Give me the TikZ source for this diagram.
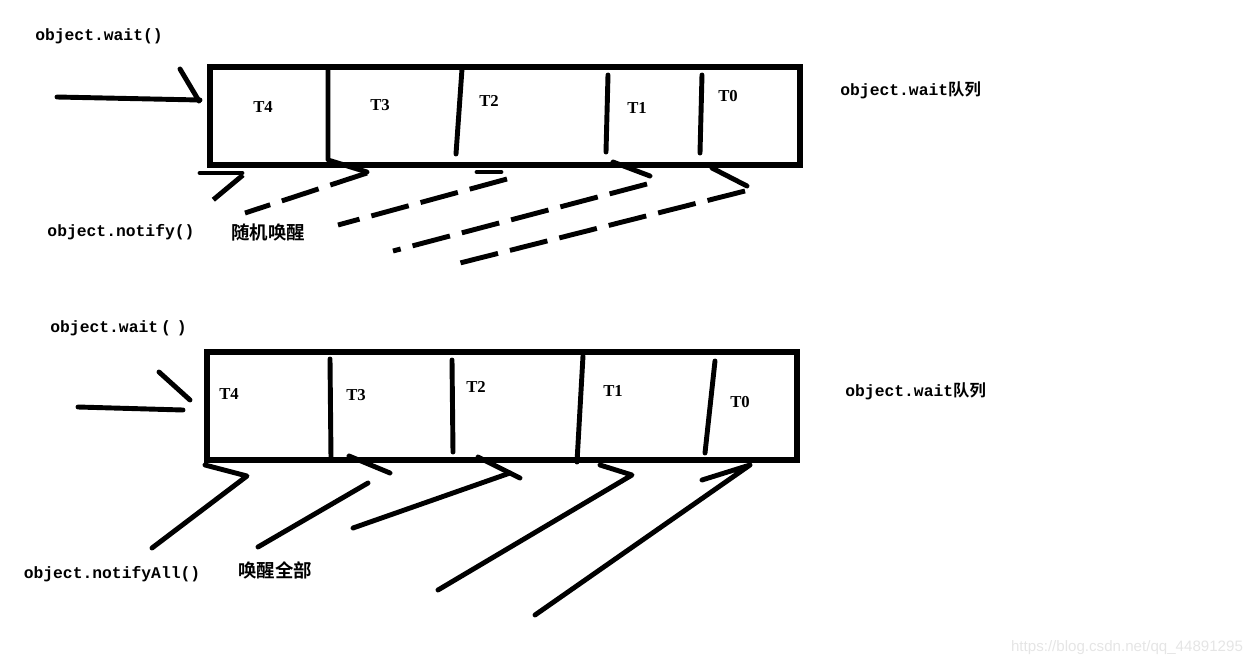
\documentclass[tikz,border=0pt]{standalone}
\usepackage{fontspec}
\setmainfont{Liberation Serif}
\newfontfamily\monofont{Liberation Mono}
\newfontfamily\cjkfont{Noto Sans CJK SC}[BoldFont={Noto Sans CJK SC Bold}]
\newfontfamily\urlfont{Liberation Sans}
\tikzset{
  inkline/.style={line width=2.8pt, line cap=round, line join=round},
  boxline/.style={line width=3.2pt},
  dashline/.style={line width=2.8pt, dash pattern=on 22pt off 7pt},
  code/.style={inner sep=0pt, font={\monofont\bfseries\fontsize{9.3}{11}\selectfont}},
  cjk/.style={inner sep=0pt, font={\cjkfont\bfseries\fontsize{10.5}{12}\selectfont}},
  thread/.style={inner sep=0pt, font={\bfseries\fontsize{9.5}{11}\selectfont}},
  watermark/.style={inner sep=0pt, text=black!10, font={\urlfont\fontsize{8.6}{10}\selectfont}}
}
\begin{document}
\begin{tikzpicture}[x=0.02cm, y=-0.02cm]
% une unite = un pixel de l'image
\useasboundingbox (0,0) rectangle (1259,667);

% ---- file du haut : notify()
\draw[boxline] (210,67) rectangle (800,165);
\draw[inkline] (328,67) -- (328,160) -- (367,172);
\draw[inkline] (462,69) -- (456,154);
\draw[inkline] (608,75) -- (606,152);
\draw[inkline] (702,75) -- (700,153);
% fleche d'entree
\draw[inkline] (57,97) -- (200,100);
\draw[inkline] (180,69) -- (199,101);
% fleches en tirets
\draw[inkline] (200,173) -- (242,173);
\draw[dashline] (243,175) -- (207,205);
\draw[dashline] (367,173) -- (245,213);
\draw[inkline] (477,172) -- (501,172);
\draw[dashline] (507,179) -- (338,225);
\draw[inkline] (613,162) -- (650,176);
\draw[dashline] (647,184) -- (393,251);
\draw[inkline] (712,168) -- (747,186);
\draw[dashline] (745,191) -- (456,264);

\foreach \name/\x/\y in {T4/263/107, T3/380/105, T2/489/101, T1/637/108, T0/728/96}
  \node[thread] (top\name) at (\x,\y) {\name};
\node[code] (waitA) at (99,36) {object.wait()};
\node[code] (notify) at (121,232) {object.notify()};
\node[cjk] (random) at (268,232) {随机唤醒};
\node[code, anchor=west] (queueA) at (840,90) {object.wait{\cjkfont 队列}};

% ---- file du bas : notifyAll()
\draw[boxline] (207,352) rectangle (797,460);
\draw[inkline] (330,359) -- (331,458);
\draw[inkline] (452,360) -- (453,452);
\draw[inkline] (583,356) -- (577,462);
\draw[inkline] (715,361) -- (705,453);
% fleche d'entree
\draw[inkline] (78,407) -- (183,410);
\draw[inkline] (159,372) -- (190,400);
% fleches pleines
\draw[inkline] (205,465) -- (247,476) -- (152,548);
\draw[inkline] (258,547) -- (368,483);
\draw[inkline] (349,456) -- (390,473);
\draw[inkline] (353,528) -- (510,473);
\draw[inkline] (478,457) -- (520,478);
\draw[inkline] (600,465) -- (632,475) -- (438,590);
\draw[inkline] (702,480) -- (750,465) -- (535,615);

\foreach \name/\x/\y in {T4/229/394, T3/356/395, T2/476/387, T1/613/391, T0/740/402}
  \node[thread] (bot\name) at (\x,\y) {\name};
\node[code, anchor=west] (waitB) at (50,328) {object.wait\hspace{1.7pt}(\hspace{3.4pt})};
\node[code] (notifyAll) at (112,574) {object.notifyAll()};
\node[cjk] (all) at (275,570) {唤醒全部};
\node[code, anchor=west] (queueB) at (845,391) {object.wait{\cjkfont 队列}};

\node[watermark] (url) at (1127,648) {https://blog.csdn.net/qq\_44891295};
\end{tikzpicture}
\end{document}
